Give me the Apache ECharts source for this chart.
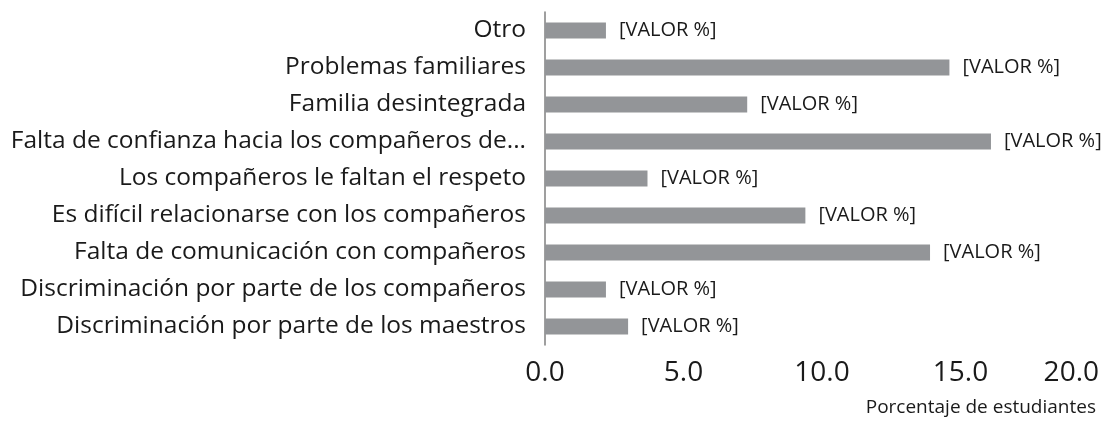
<!DOCTYPE html>
<html>
<head>
<meta charset="utf-8">
<script src="https://cdn.jsdelivr.net/npm/echarts@6/dist/echarts.min.js"></script>
<style>
html, body { margin: 0; padding: 0; background: #fff; }
#main { width: 1104px; height: 422px; }
</style>
</head>
<body>
<div id="main"></div>
<script>
// categorias de abajo hacia arriba
var categorias = [
	'Discriminación por parte de los maestros',
	'Discriminación por parte de los compañeros',
	'Falta de comunicación con compañeros',
	'Es difícil relacionarse con los compañeros',
	'Los compañeros le faltan el respeto',
	'Falta de confianza hacia los compañeros de...',
	'Familia desintegrada',
	'Problemas familiares',
	'Otro'
];
var porcentajes = [3.0, 2.2, 13.9, 9.4, 3.7, 16.1, 7.3, 14.6, 2.2];
var ticksX = [0, 5, 10, 15, 20];

var fuente = '"Open Sans", "Noto Sans", sans-serif';
var chart = echarts.init(document.getElementById('main'));

var option = {
	animation: false,
	title: {
		text: 'Porcentaje de estudiantes',
		right: 3,
		bottom: 0,
		textStyle: {
			fontFamily: fuente,
			fontSize: 19,
			fontWeight: 'normal',
			color: '#1a1a1a'
		}
	},
	grid: {
		left: 545,
		right: 5,
		top: 12,
		bottom: 77
	},
	xAxis: {
		type: 'value',
		min: ticksX[0],
		max: ticksX[ticksX.length - 1],
		interval: 5,
		splitLine: { show: false },
		axisLine: { show: false },
		axisTick: { show: false },
		axisLabel: {
			margin: 14,
			fontFamily: fuente,
			fontSize: 28,
			color: '#1a1a1a',
			alignMaxLabel: 'right',
			formatter: function(v) { return v.toFixed(1); }
		}
	},
	yAxis: {
		type: 'category',
		data: categorias,
		axisLine: { show: true, lineStyle: { color: '#7f7f7f', width: 1.5 } },
		axisTick: { show: false },
		axisLabel: {
			margin: 19,
			fontFamily: fuente,
			fontSize: 24.5,
			color: '#1a1a1a'
		}
	},
	series: [{
		type: 'bar',
		data: porcentajes,
		barWidth: 16,
		itemStyle: { color: '#939598' },
		label: {
			show: true,
			position: 'right',
			distance: 13,
			formatter: '[VALOR %]',
			fontFamily: fuente,
			fontSize: 20,
			color: '#1a1a1a'
		}
	}]
};
chart.setOption(option);
</script>
</body>
</html>
